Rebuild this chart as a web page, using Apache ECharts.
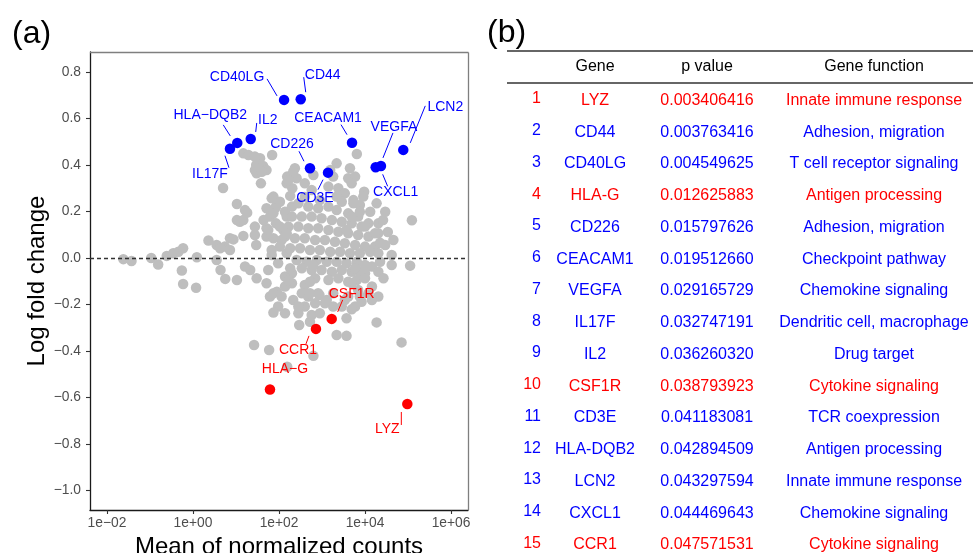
<!DOCTYPE html>
<html><head><meta charset="utf-8">
<script src="https://cdn.jsdelivr.net/npm/echarts@6/dist/echarts.min.js"></script>
<style>html,body{margin:0;padding:0;background:#fff}#c{width:977px;height:553px}</style>
</head><body><div id="c"></div><script>
// ---------- DATA ----------
// Grey (non-significant) genes: [mean of normalized counts, log fold change]
const grayPoints = [
[0.0240,-0.005],[0.0372,-0.013],[0.107,0.0],[0.155,-0.028],[0.245,0.009],[0.347,0.02],[0.457,0.027],[0.589,0.042],[0.550,-0.054],[0.589,-0.112],
[1.18,-0.128],[1.23,0.003],[2.29,0.075],[3.55,0.056],[5.50,0.049],[4.27,0.042],[3.55,-0.009],[4.37,-0.052],[5.62,-0.09],[7.24,0.085],
[8.71,0.08],[7.24,0.034],[10.5,-0.095],[14.8,0.095],[27.5,0.099],[29.5,0.056],[16.2,-0.037],[21.4,-0.052],[30.2,-0.087],[51.3,0.092],
[51.3,0.128],[85.1,0.149],[85.1,0.221],[74.1,0.264],[105,0.242],[151,0.178],[115,0.077],[67.6,0.013],[151,0.02],[12.3,0.156],
[10.5,0.232],[18.2,0.195],[5.01,0.301],[14.8,0.45],[19.5,0.443],[36.3,0.429],[29.5,0.40],[42.7,0.396],[30.2,0.364],[38.0,0.321],
[69.2,0.443],[155,0.35],[234,0.386],[204,0.30],[631,0.357],[2190,0.407],[4470,0.386],[4070,0.343],[6460,0.447],[2400,0.30],
[9550,0.285],[13200,0.199],[29500,0.199],[123000,0.162],[18600,0.235],[51.3,0.378],[257,0.343],[151,0.321],[5890,0.35],[4900,0.321],
[9120,0.264],[3390,0.278],[2190,0.264],[2880,0.242],[5370,0.235],[67.6,0.257],[81.3,0.214],[61.7,0.178],[56.2,0.12],[74.1,0.085],
[126,0.12],[138,0.199],[200,0.221],[282,0.235],[479,0.221],[813,0.214],[1410,0.221],[2190,0.206],[4070,0.192],[6920,0.178],
[12000,0.149],[20400,0.106],[45700,0.077],[29500,0.056],[17000,0.049],[41700,-0.03],[22400,-0.016],[14500,-0.037],[10000,-0.066],
[200,0.178],[339,0.178],[575,0.178],[977,0.171],[1700,0.163],[2880,0.156],[4900,0.149],[8320,0.135],
[166,0.135],[282,0.135],[479,0.128],[813,0.128],[1410,0.12],[2400,0.113],[4070,0.106],[6920,0.099],[12000,0.092],
[138,0.092],[234,0.085],[398,0.085],[692,0.077],[1170,0.077],[2000,0.07],[3390,0.063],[5890,0.056],[10000,0.049],
[105,0.049],[182,0.042],[309,0.042],[525,0.034],[891,0.034],[1550,0.027],[2630,0.027],[4470,0.02],[7590,0.02],[13200,0.027],[67.6,0.034],
[257,-0.009],[437,-0.016],[759,-0.009],[1290,-0.016],[2190,-0.016],[3720,-0.023],[6460,-0.016],
[339,-0.044],[575,-0.052],[977,-0.052],[1700,-0.059],[2880,-0.052],[4900,-0.059],[7590,-0.059],
[200,-0.066],[138,-0.08],[692,-0.087],[1410,-0.095],[2400,-0.087],[4070,-0.102],[6460,-0.095],
[200,-0.109],[398,-0.116],[89.1,-0.145],[138,-0.123],[339,-0.152],[479,-0.166],[813,-0.152],[214,-0.181],[61.7,-0.166],[95.5,-0.209],
[398,-0.209],[692,-0.195],[282,-0.238],[138,-0.238],[6920,-0.138],[12000,-0.152],[4070,-0.166],[2880,-0.209],[5890,-0.209],[51.3,-0.109],
[56.2,-0.052],[95.5,-0.023],[74.1,-0.152],[115,-0.166],[74.1,-0.235],[295,-0.288],[525,-0.152],[871,-0.159],[1170,-0.195],[1820,-0.209],
[1820,-0.152],[3720,-0.259],[3390,-0.181],[4900,-0.221],[7590,-0.166],[20400,-0.166],[18600,-0.277],[2190,-0.331],[3720,-0.335],[70800,-0.363],
[26.3,-0.374],[58.9,-0.396],[155,-0.468],[631,-0.421],[525,-0.274],[891,-0.238],[166,-0.095],[182,-0.044],[631,-0.03],[525,-0.102],
[282,-0.209],[1290,-0.181],[575,-0.245],[20400,0.02],[41700,0.013],[112000,-0.033],[20400,-0.059],[26900,-0.087],[10000,-0.087],[14500,-0.123],
[14500,-0.181],[8320,-0.188],[5890,-0.044],[10000,-0.03],[4900,-0.109],[5370,0.249],[7590,0.228],[7590,0.199],[4900,0.178],[3720,0.12],
[10000,0.135],[20400,0.149],[17000,0.106],[27.5,0.436],[27.5,0.378],[39.8,0.371],[214,0.371],[166,0.335],[1550,0.378],[1820,0.35],
[1410,0.307],[398,0.321],[575,0.292],[16.2,0.206],[10.5,0.163],[14.8,0.163],[51.3,0.214],[74.1,0.192],[43.7,0.163],[27.5,0.135],
[105,0.135],[151,0.106],[26300,0.163],[33900,0.112],[22400,0.065],[398,0.262],[891,0.249],[182,0.267]
];

// Labelled (significant) genes
const sigGenes = ['CD40LG','CD44','HLA\u2212DQB2','IL17F','IL2','CEACAM1','CD226','CD3E','CXCL1','VEGFA','LCN2','CSF1R','CCR1','HLA\u2212G','LYZ'];
const sigMean  = [131, 320, 10.7, 7.24, 22.0, 4990, 525, 1380, 17700, 23500, 77600, 1680, 724, 61.7, 96400];
const sigLfc   = [0.68, 0.683, 0.495, 0.47, 0.512, 0.496, 0.386, 0.367, 0.39, 0.396, 0.465, -0.262, -0.305, -0.566, -0.628];

// Axis tick values
const xTicks = [0.01, 1, 100, 10000, 1000000];
const yTicks = [-1.0, -0.8, -0.6, -0.4, -0.2, 0.0, 0.2, 0.4, 0.6, 0.8];

// Table (b)
const tableRank = [1,2,3,4,5,6,7,8,9,10,11,12,13,14,15];
const tableGene = ['LYZ','CD44','CD40LG','HLA-G','CD226','CEACAM1','VEGFA','IL17F','IL2','CSF1R','CD3E','HLA-DQB2','LCN2','CXCL1','CCR1'];
const tablePValue = [0.003406416,0.003763416,0.004549625,0.012625883,0.015797626,0.019512660,0.029165729,0.032747191,0.036260320,0.038793923,0.041183081,0.042894509,0.043297594,0.044469643,0.047571531];
const tableFunction = ['Innate immune response','Adhesion, migration','T cell receptor signaling','Antigen processing','Adhesion, migration','Checkpoint pathway','Chemokine signaling','Dendritic cell, macrophage','Drug target','Cytokine signaling','TCR coexpression','Antigen processing','Innate immune response','Chemokine signaling','Cytokine signaling'];
const tableDirection = ['down','up','up','down','up','up','up','up','up','down','up','up','up','up','down'];
const tableHeader = ['Gene','p value','Gene function'];

// ---------- STYLE / LAYOUT ----------
const FONT = "'Liberation Sans', Arial, sans-serif";
const RED = '#FF0000', BLUE = '#0000FF', GREY = '#BEBEBE';
// label text offset [dx,dy] and leader segment [x1,y1,x2,y2] relative to point (px)
const labelLayout = {
  'CD40LG':   {t:[-47,-23], l:[-17,-21,-7,-4]},
  'CD44':     {t:[22,-24],  l:[3,-22,5,-7]},
  'HLA\u2212DQB2': {t:[-27,-28], l:[-14,-18,-7,-7]},
  'IL17F':    {t:[-20,25],  l:[-1,19,-5,7]},
  'IL2':      {t:[17,-19],  l:[6,-16,5,-7]},
  'CEACAM1':  {t:[-24,-25], l:[-11,-18,-5,-8]},
  'CD226':    {t:[-18,-24], l:[-11,-17,-6,-7]},
  'CD3E':     {t:[-13,25],  l:[-10,17,-5,7]},
  'CXCL1':    {t:[20,25],   l:[7,7,12,19]},
  'VEGFA':    {t:[13,-39],  l:[12,-33,2,-8]},
  'LCN2':     {t:[42,-43],  l:[22,-44,7,-7]},
  'CSF1R':    {t:[20,-25],  l:[11,-19,6,-7]},
  'CCR1':     {t:[-18,21],  l:[-7,7,-10,15]},
  'HLA\u2212G':    {t:[15,-20],  l:null},
  'LYZ':      {t:[-20,25],  l:[-6,8,-6,21]}
};

const sigData = sigGenes.map((g,i)=>({name:g, value:[sigMean[i], sigLfc[i]],
  itemStyle:{color: sigLfc[i] < 0 ? RED : BLUE, opacity:1}}));

function fmtX(v){ const e = Math.round(Math.log10(v)); return '1e' + (e<0?'\u2212':'+') + String(Math.abs(e)).padStart(2,'0'); }
function fmtY(v){ const r = Math.round(v*10)/10; return (r<0?'\u2212':'') + Math.abs(r).toFixed(1); }

// table graphics
const g = [];
g.push({type:'text', left:12, top:18, style:{text:'(a)', font:'32px '+FONT, fill:'#000'}});
g.push({type:'text', left:487, top:17, style:{text:'(b)', font:'32px '+FONT, fill:'#000'}});
g.push({type:'line', shape:{x1:507,y1:51,x2:973,y2:51}, style:{stroke:'#333', lineWidth:1.6}});
g.push({type:'line', shape:{x1:507,y1:83,x2:973,y2:83}, style:{stroke:'#333', lineWidth:1.6}});
const colX = [595, 707, 874];
tableHeader.forEach((h,i)=>g.push({type:'text', x:colX[i], y:67, style:{text:h, font:'16px '+FONT, fill:'#000', align:'center', verticalAlign:'middle'}}));
tableRank.forEach((r,i)=>{
  const y = 100.5 + i*31.75;
  const c = tableDirection[i]==='down' ? RED : BLUE;
  g.push({type:'text', x:541, y:y-1.5, style:{text:String(r), font:'16px '+FONT, fill:c, align:'right', verticalAlign:'middle'}});
  g.push({type:'text', x:colX[0], y:y, style:{text:tableGene[i], font:'16px '+FONT, fill:c, align:'center', verticalAlign:'middle'}});
  g.push({type:'text', x:colX[1], y:y, style:{text:tablePValue[i].toFixed(9), font:'16px '+FONT, fill:c, align:'center', verticalAlign:'middle'}});
  g.push({type:'text', x:colX[2], y:y, style:{text:tableFunction[i], font:'16px '+FONT, fill:c, align:'center', verticalAlign:'middle'}});
});
// panel top/right border
g.push({type:'line', shape:{x1:90,y1:52.5,x2:468.5,y2:52.5}, style:{stroke:'#7f7f7f', lineWidth:1.3}, z:10});
g.push({type:'line', shape:{x1:468.5,y1:52.5,x2:468.5,y2:510}, style:{stroke:'#7f7f7f', lineWidth:1.3}, z:10});

const chart = echarts.init(document.getElementById('c'));
chart.setOption({
  animation:false,
  backgroundColor:'#fff',
  textStyle:{fontFamily:FONT},
  grid:{left:90, top:52, width:378, height:458, containLabel:false, outerBoundsMode:'none'},
  xAxis:{
    type:'log', logBase:10, min:0.004027, max:2483000,
    name:'Mean of normalized counts', nameLocation:'middle', nameGap:23,
    nameTextStyle:{fontSize:24, color:'#000', fontFamily:FONT},
    axisLine:{show:true, onZero:false, lineStyle:{color:'#1a1a1a', width:1.3}},
    axisTick:{show:true, length:4, customValues:xTicks, lineStyle:{color:'#333', width:1.1}},
    axisLabel:{customValues:xTicks, formatter:fmtX, color:'#4d4d4d', fontSize:13.8, margin:6, fontFamily:FONT},
    splitLine:{show:false}, minorTick:{show:false}
  },
  yAxis:{
    type:'value', min:-1.084, max:0.886,
    name:'Log fold change', nameLocation:'middle', nameGap:40, nameRotate:90,
    nameTextStyle:{fontSize:24, color:'#000', fontFamily:FONT},
    axisLine:{show:true, onZero:false, lineStyle:{color:'#1a1a1a', width:1.3}},
    axisTick:{show:true, length:4, customValues:yTicks, lineStyle:{color:'#333', width:1.1}},
    axisLabel:{customValues:yTicks, formatter:fmtY, color:'#4d4d4d', fontSize:13.8, margin:9, fontFamily:FONT},
    splitLine:{show:false}
  },
  graphic:g,
  series:[
    {type:'scatter', data:grayPoints, symbolSize:10.5, itemStyle:{color:GREY, opacity:1}, silent:true, z:2,
     markLine:{silent:true, symbol:'none', z:5, label:{show:false},
       lineStyle:{color:'#333', type:[4,3], width:1.3}, data:[{yAxis:0}]}},
    {type:'scatter', data:sigData, symbolSize:10.5, silent:true, z:3},
    {type:'custom', z:4, silent:true, data:sigData,
     renderItem:function(params, api){
       const i = params.dataIndex;
       const p = api.coord([api.value(0), api.value(1)]);
       const name = sigGenes[i];
       const L = labelLayout[name];
       const c = sigLfc[i] < 0 ? RED : BLUE;
       const ch = [{type:'text', x:p[0]+L.t[0], y:p[1]+L.t[1],
         style:{text:name, fill:c, font:'14px '+FONT, align:'center', verticalAlign:'middle'}}];
       if (L.l) ch.push({type:'line', shape:{x1:p[0]+L.l[0], y1:p[1]+L.l[1], x2:p[0]+L.l[2], y2:p[1]+L.l[3]},
         style:{stroke:c, lineWidth:1}});
       return {type:'group', children:ch};
     }}
  ]
});
</script></body></html>
